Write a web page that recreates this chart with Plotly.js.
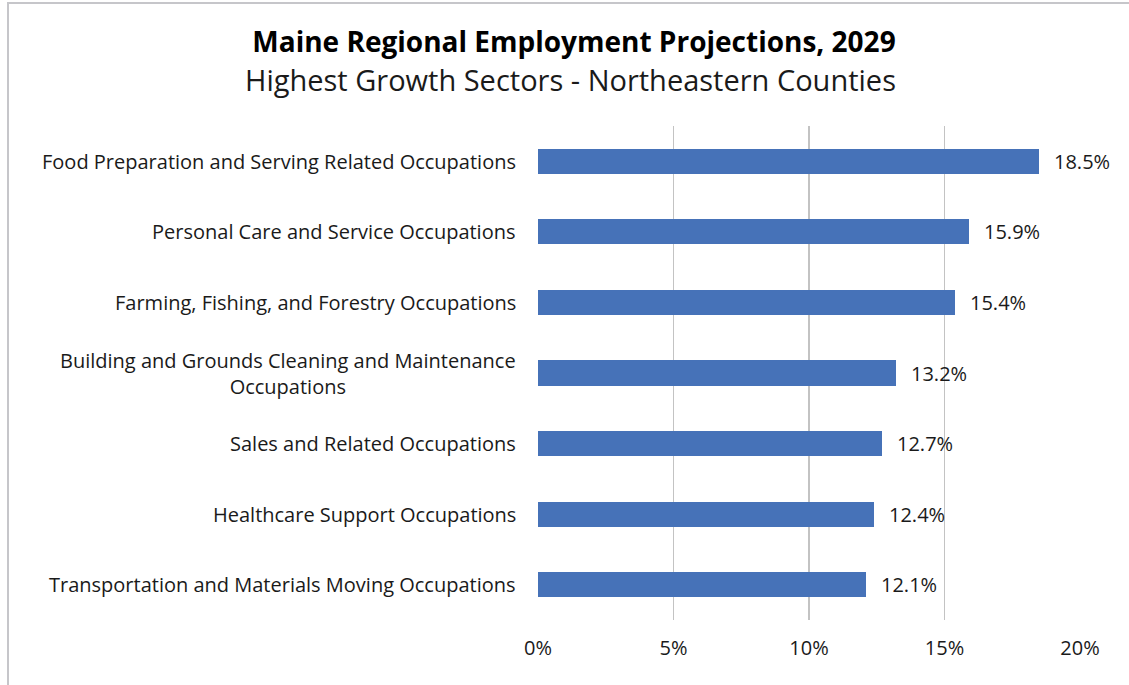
<!DOCTYPE html>
<html>
<head>
<meta charset="utf-8">
<script src="https://cdn.plot.ly/plotly-3.0.1.min.js"></script>
<style>
html,body{margin:0;padding:0;background:#fff;}
#frame{position:absolute;left:7px;top:2px;width:1200px;height:800px;border-left:2px solid #c6c6ca;border-top:2px solid #c6c6ca;}
#chart{position:absolute;left:0;top:0;width:1129px;height:685px;}
</style>
</head>
<body>
<div id="frame"></div>
<div id="chart"></div>
<script>
var categories = [
  "Food Preparation and Serving Related Occupations",
  "Personal Care and Service Occupations",
  "Farming, Fishing, and Forestry Occupations",
  "Building and Grounds Cleaning and Maintenance<br>Occupations",
  "Sales and Related Occupations",
  "Healthcare Support Occupations",
  "Transportation and Materials Moving Occupations"
];
var values = [18.5, 15.9, 15.4, 13.2, 12.7, 12.4, 12.1];
var tickVals = [0, 5, 10, 15, 20];
var tickText = ["0%", "5%", "10%", "15%", "20%"];
var titleText = "Maine Regional Employment Projections, 2029";
var subtitleText = "Highest Growth Sectors - Northeastern Counties";

var FONT = "Open Sans, sans-serif";
var idx = categories.map(function(_, i){ return i; });

var trace = {
  type: "bar",
  orientation: "h",
  x: values,
  y: idx,
  width: 0.355,
  marker: {color: "#4672b8"},
  hoverinfo: "x+y"
};

var annotations = [];
categories.forEach(function(c, i){
  annotations.push({
    xref: "paper", yref: "y", x: 0, y: i, xanchor: "right", yanchor: "middle",
    xshift: -20, text: c, showarrow: false, align: "center",
    font: {family: FONT, size: 20, color: "#1a1a1a"}
  });
  annotations.push({
    xref: "x", yref: "y", x: values[i], y: i, xanchor: "left", yanchor: "middle",
    xshift: 13, text: values[i].toFixed(1) + "%", showarrow: false,
    font: {family: FONT, size: 20, color: "#1a1a1a"}
  });
});
annotations.push({
  xref: "paper", yref: "paper", x: (570 - 538) / 542, y: (620 - 80) / 494,
  xanchor: "center", yanchor: "middle", text: subtitleText, showarrow: false,
  font: {family: FONT, size: 29, color: "#1a1a1a"}
});

var layout = {
  width: 1129, height: 685,
  margin: {l: 538, r: 49, t: 126, b: 65, pad: 0},
  paper_bgcolor: "rgba(0,0,0,0)",
  plot_bgcolor: "rgba(0,0,0,0)",
  showlegend: false,
  title: {
    text: "<b>" + titleText + "</b>",
    xref: "container", yref: "container",
    x: 574 / 1129, y: 1 - 42 / 685, xanchor: "center", yanchor: "middle",
    font: {family: FONT, size: 28, color: "#000"}
  },
  xaxis: {
    range: [0, 20], tickvals: tickVals, ticktext: tickText,
    showgrid: true, gridcolor: "#c3c3c3", gridwidth: 1.5,
    zeroline: false, showline: false, ticks: "",
    ticklabelstandoff: 14,
    tickfont: {family: FONT, size: 20, color: "#1a1a1a"},
    fixedrange: true
  },
  yaxis: {
    range: [6.5, -0.5], showticklabels: false, showgrid: false,
    zeroline: false, showline: false, ticks: "", fixedrange: true
  },
  annotations: annotations,
  bargap: 0
};

Plotly.newPlot("chart", [trace], layout, {displayModeBar: false, staticPlot: true});
</script>
</body>
</html>
